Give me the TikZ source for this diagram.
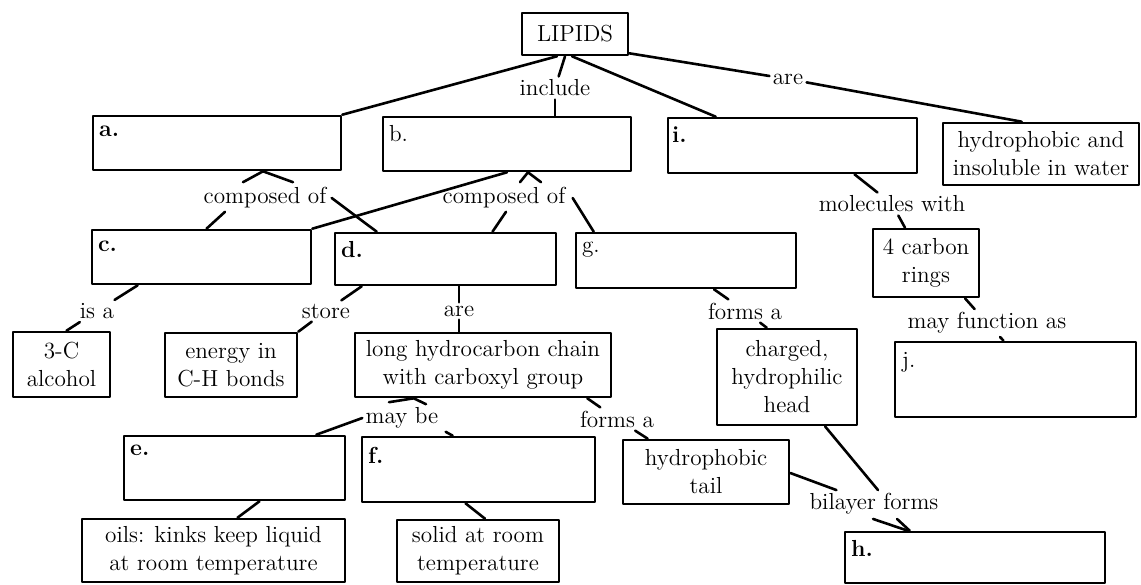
\documentclass[tikz,border=0pt]{standalone}
\usepackage{fontspec}
\usepackage{tikz}
\usetikzlibrary{calc}
\newcommand{\mapfont}{\fontsize{11.6}{14}\selectfont}
\tikzset{
  every picture/.style={line join=round, line cap=round},
  box/.style={draw, line width=1.3pt, align=center, inner sep=1pt},
  word/.style={inner sep=1.5pt},
  tag/.style={anchor=west, inner sep=0pt, font=\mapfont\bfseries},
  plaintag/.style={anchor=west, inner sep=0pt},
  link/.style={line width=1.3pt},
}

\begin{document}
\begin{tikzpicture}[x=0.5pt, y=-0.5pt, font=\mapfont]
\path[fill=white, use as bounding box] (0,0) rectangle (1141,584);

% boxes
\node[box, minimum width=53pt, minimum height=21pt] (lip) at (575,34) {LIPIDS};
\node[box, minimum width=124pt, minimum height=27pt] (a) at (217,143) {};
\node[box, minimum width=124pt, minimum height=27pt] (b) at (507,144) {};
\node[box, minimum width=124.5pt, minimum height=27.5pt] (i) at (792.5,145.5) {};
\node[box, minimum width=98pt, minimum height=31pt] (hyd) at (1041,154) {hydrophobic and\\insoluble in water};
\node[box, minimum width=109.5pt, minimum height=27pt] (c) at (201.5,257) {};
\node[box, minimum width=110.5pt, minimum height=26pt] (d) at (445.5,259) {};
\node[box, minimum width=110pt, minimum height=27.5pt] (g) at (686,260.5) {};
\node[box, minimum width=53pt, minimum height=34pt] (rings) at (926,263) {4 carbon\\rings};
\node[box, minimum width=48.5pt, minimum height=32.5pt] (alc) at (61.5,364.5) {3-C\\alcohol};
\node[box, minimum width=66pt, minimum height=32pt] (nrg) at (231,365) {energy in\\C-H bonds};
\node[box, minimum width=128pt, minimum height=32pt] (chain) at (483,365) {long hydrocarbon chain\\with carboxyl group};
\node[box, minimum width=70pt, minimum height=48pt] (head) at (787,377) {charged,\\hydrophilic\\head};
\node[box, minimum width=120.5pt, minimum height=37.5pt] (j) at (1015.5,379.5) {};
\node[box, minimum width=110.5pt, minimum height=32pt] (e) at (234.5,468) {};
\node[box, minimum width=116.5pt, minimum height=32.5pt] (f) at (478.5,469.5) {};
\node[box, minimum width=83pt, minimum height=32pt] (tail) at (706,472) {hydrophobic\\tail};
\node[box, minimum width=131.5pt, minimum height=31.5pt] (oils) at (213.5,550.5) {oils: kinks keep liquid\\at room temperature};
\node[box, minimum width=81pt, minimum height=31pt] (solid) at (478,551) {solid at room\\temperature};
\node[box, minimum width=130pt, minimum height=25.5pt] (h) at (975,557.5) {};

% letters in the blank boxes
\node[tag] (ta) at ($(a.north west)+(7,17)$) {a.};
\node[plaintag] (tb) at ($(b.north west)+(7,18)$) {b.};
\node[tag] (tc) at ($(c.north west)+(7,18)$) {c.};
\node[tag] (td) at ($(d.north west)+(7,18)$) {d.};
\node[tag] (te) at ($(e.north west)+(7,16)$) {e.};
\node[tag] (tf) at ($(f.north west)+(7,20)$) {f.};
\node[plaintag] (tg) at ($(g.north west)+(7,18)$) {g.};
\node[tag] (th) at ($(h.north west)+(7,18)$) {h.};
\node[tag] (ti) at ($(i.north west)+(5,18)$) {i.};
\node[plaintag] (tj) at ($(j.north west)+(8,22)$) {j.};

% linking words
\node[word] (inc) at (555,88) {include};
\node[word] (are1) at (788,79) {are};
\node[word] (compL) at (265,198) {composed of};
\node[word] (compR) at (504,198) {composed of};
\node[word] (mol) at (892,204) {molecules with};
\node[word] (isa) at (97,311) {is a};
\node[word] (store) at (326,311) {store};
\node[word] (are2) at (459,311) {are};
\node[word] (forms1) at (745,311) {forms a};
\node[word] (mayfn) at (987,323) {may function as};
\node[word] (maybe) at (402,418) {may be};
\node[word] (forms2) at (617,419) {forms a};
\node[word] (bil) at (874,504) {bilayer forms};

% top level
\draw[link] ($(lip.south)+(-18,0)$) -- (a.north east);
\draw[link] ($(lip.south)+(-10,0)$) -- (inc);
\draw[link] (inc) -- (inc |- b.north);
\draw[link] ($(lip.south)+(-3,0)$) -- ($(i.north west)+(49,0)$);
\draw[link] ($(lip.south east)+(0,-3)$) -- (are1);
\draw[link] (are1) -- ($(hyd.north west)+(80,0)$);

% a and b
\draw[link] ($(compL.north)+(-22,-2)$) -- ($(a.south)+(46,0)$) -- ($(compL.north)+(28,-2)$);
\draw[link] ($(compL.south)+(-40,0)$) -- ($(c.north)+(5,0)$);
\draw[link] ($(compL.east)+(2,0)$) -- ($(d.north west)+(43,0)$);
\draw[link] (b.south) -- (c.north east);
\draw[link] ($(compR.north)+(16,-2)$) -- ($(b.south)+(21,0)$) -- ($(compR.north)+(37,-2)$);
\draw[link] ($(compR.south)+(2,0)$) -- ($(d.north)+(47,0)$);
\draw[link] ($(compR.east)+(4,0)$) -- ($(g.north west)+(19,0)$);

% i
\draw[link] ($(i.south)+(62,0)$) -- (mol);
\draw[link] (mol) -- ($(rings.north)+(-21,0)$);
\draw[link] ($(rings.south)+(39,0)$) -- (mayfn);
\draw[link] (mayfn) -- ($(j.north)+(-12,0)$);

% c, d, g
\draw[link] ($(c.south west)+(47,0)$) -- (isa);
\draw[link] (isa) -- ($(alc.north)+(5,0)$);
\draw[link] ($(d.south west)+(28,0)$) -- (store);
\draw[link] (store) -- (nrg.north east);
\draw[link] (are2 |- d.south) -- (are2);
\draw[link] (are2) -- (are2 |- chain.north);
\draw[link] ($(g.south)+(28,0)$) -- (forms1);
\draw[link] (forms1) -- ($(head.north west)+(51,0)$);

% fatty acid chain
\draw[link] ($(maybe.north)+(-13,-2)$) -- ($(chain.south west)+(60,0)$) -- ($(maybe.north)+(24,0)$);
\draw[link] (maybe.west) -- ($(e.north east)+(-30,0)$);
\draw[link] ($(maybe.south east)+(4,0)$) -- ($(f.north west)+(92,0)$);
\draw[link] ($(chain.south east)+(-25,0)$) -- (forms2);
\draw[link] (forms2) -- ($(tail.north west)+(26,0)$);
\draw[link] ($(e.south)+(25,0)$) -- ($(oils.north)+(24,0)$);
\draw[link] ($(f.south)+(-13,0)$) -- ($(solid.north)+(7,0)$);

% bilayer
\draw[link] ($(tail.east)+(0,1)$) -- (bil);
\draw[link] ($(head.south)+(38,0)$) -- ($(bil.north)+(4,0)$);
\draw[link] ($(bil.south)+(-1,1)$) -- ($(h.north west)+(64,0)$);
\draw[link] ($(bil.south)+(23,1)$) -- ($(h.north west)+(66,0)$);
\end{tikzpicture}
\end{document}
